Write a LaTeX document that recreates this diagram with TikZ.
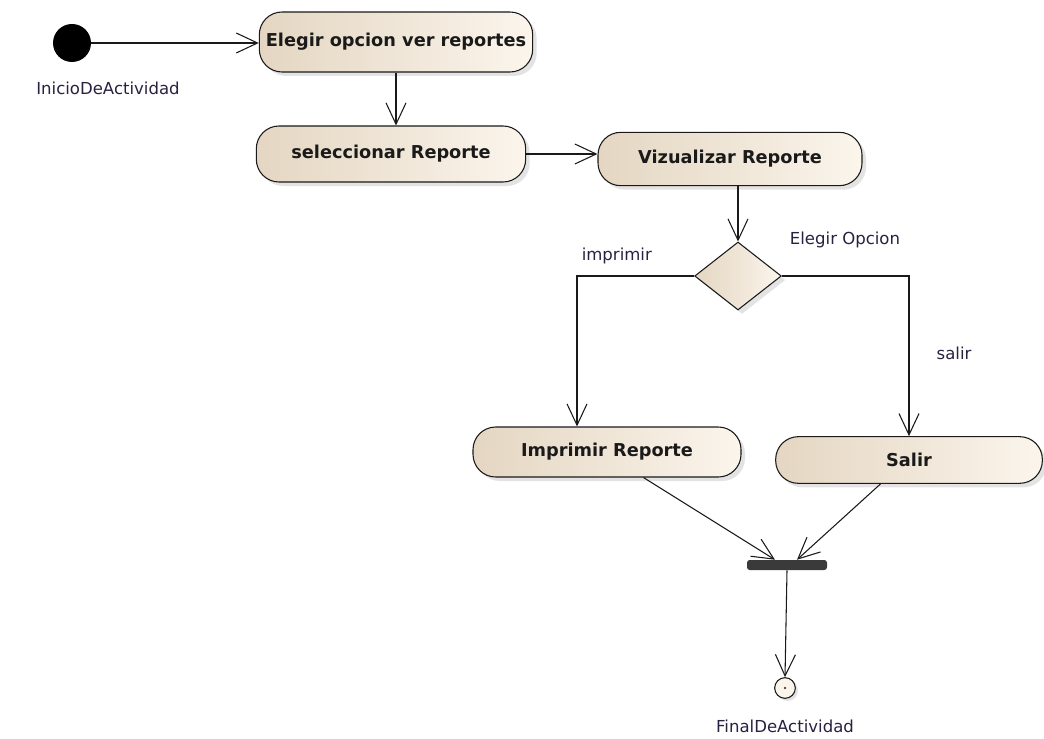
\documentclass[tikz,border=0pt]{standalone}
\usepackage{fontspec}
\setmainfont{DejaVu Sans}
\usetikzlibrary{positioning,arrows.meta,calc,shapes.geometric,shadows}
\definecolor{EAbeigeDark}{HTML}{E4D6C2}
\definecolor{EAbeigeLight}{HTML}{FBF5EC}
\definecolor{EAline}{HTML}{1A1A1A}
\definecolor{EAbar}{HTML}{3A3A3A}
\definecolor{EAlabel}{HTML}{2A2040}
\tikzset{
  actbox/.style={rounded corners=17pt, draw=EAline, line width=0.8pt, left color=EAbeigeDark, right color=EAbeigeLight, drop shadow={shadow xshift=3pt, shadow yshift=-3pt, fill=black!22}, align=center, font=\fontsize{13.3}{15}\selectfont\bfseries, text=EAline, inner xsep=2pt},
  decbox/.style={diamond, draw=EAline, line width=0.8pt, left color=EAbeigeDark, right color=EAbeigeLight, drop shadow={shadow xshift=3pt, shadow yshift=-3pt, fill=black!22}, minimum width=65pt, minimum height=51pt, inner sep=0pt},
  startdot/.style={circle, fill=black, minimum size=28.5pt, inner sep=0pt},
  enddot/.style={circle, draw=EAline, line width=0.8pt, fill=EAbeigeLight, drop shadow={shadow xshift=2pt, shadow yshift=-2pt, fill=black!22}, minimum size=15.5pt, inner sep=0pt},
  joinbar/.style={rectangle, rounded corners=2pt, fill=EAbar, minimum width=60pt, minimum height=7.5pt, inner sep=0pt},
  flowarr/.style={-{Straight Barb[length=16pt, width=15pt, line width=0.8pt]}, line width=0.8pt, draw=EAline},
  lbl/.style={font=\fontsize{12.4}{14}\selectfont, text=EAlabel}
}
\begin{document}
\begin{tikzpicture}[x=0.75pt, y=-0.75pt]
  \useasboundingbox (0,0) rectangle (1044,738);
  % start and actions
  \node[startdot, label={[lbl, xshift=27pt, label distance=11pt]below:InicioDeActividad}] (ini) at (72,43) {};
  \node[actbox, minimum width=205pt, minimum height=45pt] (elegir) at (396,42) {Elegir opcion ver reportes};
  \node[actbox, minimum width=202pt, minimum height=42pt] (selec) at (391,154) {seleccionar Reporte};
  \node[actbox, minimum width=198pt, minimum height=40pt] (vizual) at (730,159) {Vizualizar Reporte};
  % decision
  \node[decbox] (dec) at (738,276) {};
  \node[lbl] (decl) at (845,240) {Elegir Opcion};
  \node[actbox, minimum width=201pt, minimum height=37.5pt] (impr) at (607,452) {Imprimir Reporte};
  \node[actbox, minimum width=200pt, minimum height=35pt] (salir) at (909,460) {Salir};
  % join and end
  \node[joinbar] (bar) at (787,565) {};
  \node[enddot, label={[lbl, label distance=12pt]below:FinalDeActividad}] (fin) at (785,688) {};
  \fill[EAline] (fin) circle (0.9pt);
  % flows
  \draw[flowarr] (ini) -- (ini -| elegir.west);
  \draw[flowarr] (elegir.south) -- (elegir.south |- selec.north);
  \draw[flowarr] (selec) -- (selec -| vizual.west);
  \draw[flowarr] (vizual.south -| dec.north) -- (dec.north);
  \draw[flowarr] (dec.west) -| node[lbl, pos=0.33, above=5pt] {imprimir} ($(impr.north)+(-30,0)$);
  \draw[flowarr] (dec.east) -| node[lbl, pos=0.74, right=17pt] {salir} (salir.north);
  \draw[flowarr] (impr.-35) -- ($(bar.north)+(-12,0)$);
  \draw[flowarr] (salir.-140) -- ($(bar.north)+(10,0)$);
  \draw[flowarr] (bar.south) -- (fin.north);
\end{tikzpicture}
\end{document}
